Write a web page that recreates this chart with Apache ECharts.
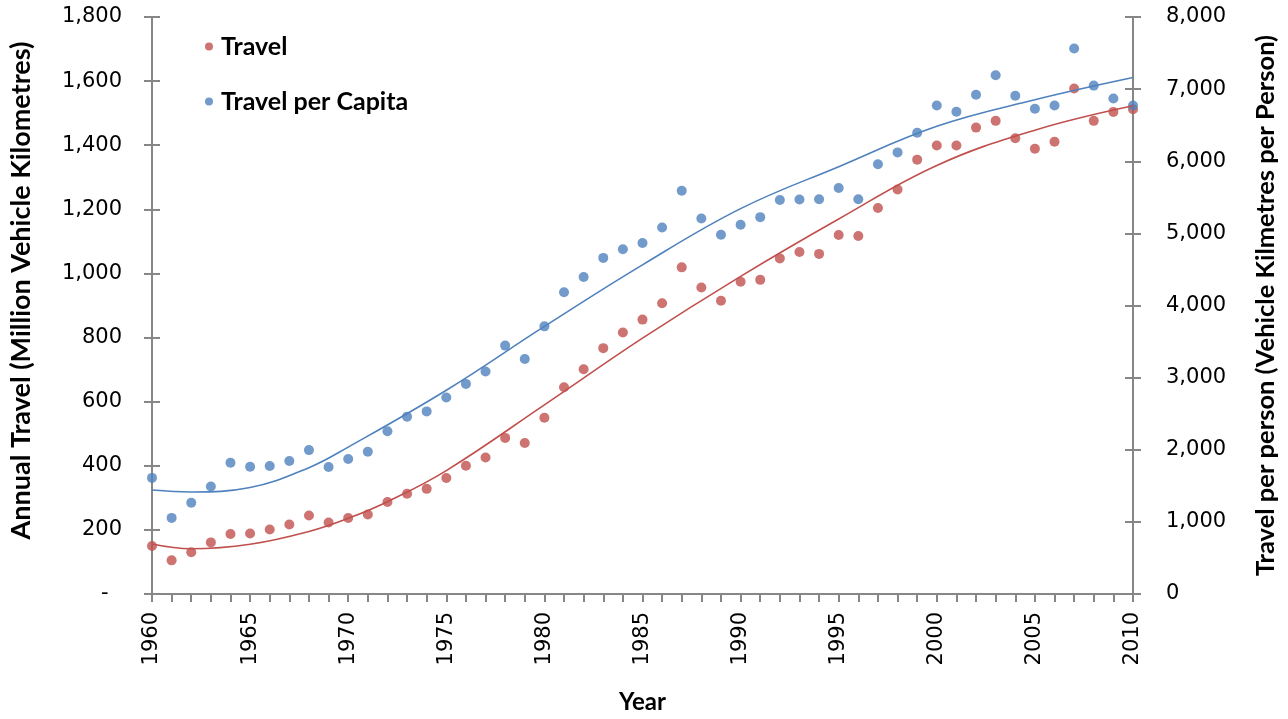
<!DOCTYPE html>
<html>
<head>
<meta charset="utf-8">
<style>
  html, body { margin: 0; padding: 0; background: #ffffff; overflow: hidden; }
  #chart { width: 1288px; height: 719px; }
</style>
<script src="https://cdn.jsdelivr.net/npm/echarts@6/dist/echarts.min.js"></script>
</head>
<body>
<div id="chart"></div>
<script>
// Annual road travel and travel per person, 1960-2010
const years = [
  1960, 1961, 1962, 1963, 1964, 1965, 1966, 1967, 1968, 1969,
  1970, 1971, 1972, 1973, 1974, 1975, 1976, 1977, 1978, 1979,
  1980, 1981, 1982, 1983, 1984, 1985, 1986, 1987, 1988, 1989,
  1990, 1991, 1992, 1993, 1994, 1995, 1996, 1997, 1998, 1999,
  2000, 2001, 2002, 2003, 2004, 2005, 2006, 2007, 2008, 2009,
  2010
];

// Million vehicle kilometres (left axis)
const travel = [
  150, 105, 130, 161, 187, 189, 201, 217, 245, 223,
  237, 248, 287, 313, 328, 362, 400, 426, 487, 471,
  550, 645, 701, 767, 816, 856, 907, 1019, 956, 915,
  974, 980, 1047, 1067, 1061, 1120, 1117, 1204, 1262, 1355,
  1399, 1399, 1455, 1476, 1422, 1389, 1411, 1577, 1476, 1504,
  1512
];

// Vehicle kilometres per person (right axis)
const travelPerCapita = [
  1610, 1055, 1266, 1490, 1820, 1765, 1775, 1844, 1995, 1761,
  1871, 1972, 2257, 2459, 2532, 2724, 2913, 3086, 3444, 3257,
  3711, 4183, 4394, 4660, 4779, 4867, 5082, 5591, 5205, 4981,
  5119, 5225, 5463, 5470, 5472, 5628, 5472, 5958, 6123, 6394,
  6774, 6687, 6921, 7192, 6908, 6729, 6774, 7564, 7049, 6870,
  6774
];

// Polynomial trend lines
const travelTrendYears = [1960, 1962, 1965, 1968, 1970, 1972, 1975, 1980, 1985, 1990, 1995, 2000, 2005, 2010];
const travelTrend      = [156, 141, 155, 195, 236, 288, 385, 590, 798, 991, 1170, 1337, 1447, 1523];

const capitaTrendYears = [1960, 1962, 1965, 1968, 1970, 1975, 1980, 1985, 1990, 1995, 2000, 2005, 2010];
const capitaTrend      = [1441, 1415, 1477, 1752, 2037, 2825, 3710, 4564, 5343, 5925, 6485, 6852, 7160];

// Axis scales
const leftAxis  = { min: 0, max: 1800, interval: 200 };
const rightAxis = { min: 0, max: 8000, interval: 1000 };
const yearAxis  = { min: 1960, max: 2010, interval: 1, labelStep: 5 };

const RED = '#C0504D';
const BLUE = '#4F81BD';
const AXIS_GREY = '#868686';
const NUM_FONT = 'DejaVu Sans';
const TITLE_FONT = 'Lato';

const pairs = (xs, ys) => xs.map((x, i) => [x, ys[i]]);
const withCommas = v => Math.round(v).toString().replace(/\B(?=(\d{3})+(?!\d))/g, ',');

const axisLineStyle = { show: true, lineStyle: { color: AXIS_GREY, width: 2 } };

// Each value axis is drawn twice (outer + inner ticks) so the ticks cross the axis line
function yAxes(scale, position, inner, opts) {
  const base = {
    type: 'value',
    position: position,
    min: scale.min, max: scale.max, interval: scale.interval,
    splitLine: { show: false },
    axisLine: axisLineStyle,
    axisTick: { show: true, inside: inner, length: 8, lineStyle: { color: AXIS_GREY, width: 2 } }
  };
  if (inner) {
    base.axisLabel = { show: false };
    base.axisLine = { show: false };
  }
  return Object.assign(base, opts || {});
}

const chart = echarts.init(document.getElementById('chart'), null, { renderer: 'canvas' });

chart.setOption({
  animation: false,
  backgroundColor: '#ffffff',
  grid: { left: 152, right: 155, top: 17, bottom: 121, containLabel: false },
  legend: {
    data: ['Travel', 'Travel per Capita'],
    orient: 'vertical',
    left: 205,
    top: 34,
    padding: 0,
    itemGap: 30,
    itemWidth: 14,
    itemHeight: 8,
    icon: 'circle',
    textStyle: { fontFamily: TITLE_FONT, fontWeight: 'bold', fontSize: 25, color: '#000', lineHeight: 24 }
  },
  xAxis: [
    {
      type: 'value',
      min: yearAxis.min, max: yearAxis.max, interval: yearAxis.interval,
      splitLine: { show: false },
      axisLine: axisLineStyle,
      axisTick: { show: true, length: 8, lineStyle: { color: AXIS_GREY, width: 2 } },
      axisLabel: {
        rotate: 90,
        margin: 18,
        fontFamily: NUM_FONT,
        fontSize: 21,
        color: '#000',
        formatter: v => (v % yearAxis.labelStep === 0 ? String(v) : '')
      },
      name: 'Year',
      nameLocation: 'middle',
      nameGap: 96,
      nameTextStyle: { fontFamily: TITLE_FONT, fontWeight: 'bold', fontSize: 24, color: '#000' }
    },
    {
      type: 'value',
      min: yearAxis.min, max: yearAxis.max, interval: yearAxis.interval,
      splitLine: { show: false },
      axisLine: { show: false },
      axisLabel: { show: false },
      axisTick: { show: true, inside: true, length: 8, lineStyle: { color: AXIS_GREY, width: 2 } }
    }
  ],
  yAxis: [
    yAxes(leftAxis, 'left', false, {
      axisLabel: {
        margin: 30,
        fontFamily: NUM_FONT,
        fontSize: 21,
        color: '#000',
        formatter: v => (v === 0 ? '-  ' : withCommas(v))
      },
      name: 'Annual Travel (Million Vehicle Kilometres)',
      nameLocation: 'middle',
      nameRotate: 90,
      nameGap: 117,
      nameTextStyle: { fontFamily: TITLE_FONT, fontWeight: 'bold', fontSize: 27, color: '#000', padding: [0, 0, 0, 30] }
    }),
    yAxes(leftAxis, 'left', true),
    yAxes(rightAxis, 'right', false, {
      axisLabel: {
        margin: 33,
        fontFamily: NUM_FONT,
        fontSize: 21,
        color: '#000',
        formatter: v => withCommas(v)
      },
      name: 'Travel per person (Vehicle Kilmetres per Person)',
      nameLocation: 'middle',
      nameRotate: 90,
      nameGap: 120,
      nameTextStyle: { fontFamily: TITLE_FONT, fontWeight: 'bold', fontSize: 25.5, color: '#000' }
    }),
    yAxes(rightAxis, 'right', true)
  ],
  series: [
    {
      name: 'Travel',
      type: 'scatter',
      xAxisIndex: 0, yAxisIndex: 0,
      symbol: 'circle', symbolSize: 10,
      itemStyle: { color: RED },
      data: pairs(years, travel),
      z: 3
    },
    {
      name: 'Travel per Capita',
      type: 'scatter',
      xAxisIndex: 0, yAxisIndex: 2,
      symbol: 'circle', symbolSize: 10,
      itemStyle: { color: BLUE },
      data: pairs(years, travelPerCapita),
      z: 3
    },
    {
      name: 'Poly. (Travel)',
      type: 'line',
      xAxisIndex: 0, yAxisIndex: 0,
      smooth: 0.4,
      showSymbol: false,
      lineStyle: { color: RED, width: 1.6 },
      data: pairs(travelTrendYears, travelTrend),
      z: 4
    },
    {
      name: 'Poly. (Travel per Capita)',
      type: 'line',
      xAxisIndex: 0, yAxisIndex: 2,
      smooth: 0.4,
      showSymbol: false,
      lineStyle: { color: BLUE, width: 1.6 },
      data: pairs(capitaTrendYears, capitaTrend),
      z: 4
    }
  ]
});
</script>
</body>
</html>
